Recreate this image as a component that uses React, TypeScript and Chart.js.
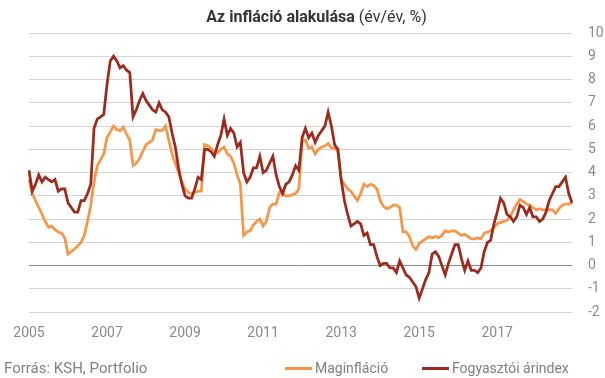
import React, { useEffect, useRef } from "react";
import Chart from "chart.js/auto";

// ---- data ----
const startYear = 2005;
const endYear = 2018;
const tickYears = [2005, 2007, 2009, 2011, 2013, 2015, 2017];
const yTicks = { min: -2, max: 10, step: 1 };
const seriesNames = ["Maginfláció", "Fogyasztói árindex"];
const seriesColors = ["#F79646", "#9C2B1E"];
const titleBold = "Az infláció alakulása";
const titleRest = " (év/év, %)";
const sourceText = "Forrás: KSH, Portfolio";

// Maginfláció (core inflation), monthly, Jan 2005 - Dec 2018
const coreInflation = [
  3.7, 3.1, 2.8, 2.5, 2.2, 1.9, 1.65, 1.7, 1.55, 1.45, 1.4, 1.2,
  0.5, 0.6, 0.72, 0.85, 1.0, 1.3, 1.9, 2.6, 3.6, 4.3, 4.55, 4.8,
  5.5, 5.75, 6.0, 5.85, 5.8, 5.95, 5.65, 5.4, 4.3, 4.4, 4.6, 4.9,
  5.2, 5.3, 5.4, 5.85, 5.8, 5.8, 6.0, 5.4, 4.8, 4.4, 4.0, 3.6,
  3.3, 3.15, 3.1, 3.15, 3.2, 3.2, 5.2, 5.15, 5.05, 4.9, 4.85, 5.0,
  5.1, 4.8, 4.7, 4.4, 3.9, 3.5, 1.3, 1.45, 1.5, 1.75, 1.9, 2.0,
  1.7, 1.9, 2.5, 2.65, 2.65, 3.15, 3.1, 3.0, 3.0, 3.05, 3.1, 3.3,
  5.35, 5.4, 5.05, 5.1, 4.8, 5.0, 5.1, 5.15, 5.25, 5.05, 5.05, 4.9,
  3.7, 3.5, 3.3, 3.2, 3.0, 2.8, 3.1, 3.5, 3.4, 3.5, 3.45, 3.3,
  2.8, 2.55, 2.45, 2.5, 2.6, 2.6, 2.5, 1.45, 1.45, 1.25, 0.85, 0.7,
  0.95, 1.05, 1.15, 1.25, 1.2, 1.25, 1.2, 1.3, 1.5, 1.45, 1.5, 1.5,
  1.4, 1.3, 1.35, 1.25, 1.15, 1.15, 1.2, 1.15, 1.4, 1.45, 1.5, 1.65,
  1.8, 1.85, 1.9, 1.95, 2.1, 2.4, 2.65, 2.85, 2.75, 2.65, 2.6, 2.5,
  2.4, 2.45, 2.4, 2.4, 2.4, 2.4, 2.25, 2.45, 2.6, 2.65, 2.65, 2.7,
];

// Fogyasztói árindex (CPI), monthly, Jan 2005 - Dec 2018
const cpi = [
  4.1, 3.2, 3.5, 3.9, 3.6, 3.8, 3.7, 3.6, 3.7, 3.2, 3.3, 3.3,
  2.7, 2.5, 2.3, 2.3, 2.8, 2.8, 3.1, 3.5, 5.9, 6.3, 6.4, 6.5,
  7.8, 8.8, 9.0, 8.8, 8.5, 8.6, 8.4, 8.3, 6.4, 6.7, 7.1, 7.4,
  7.1, 6.9, 6.7, 6.6, 7.0, 6.7, 6.6, 6.4, 5.7, 5.1, 4.2, 3.5,
  3.0, 2.9, 2.9, 3.3, 3.8, 3.7, 5.0, 5.0, 4.9, 4.7, 5.2, 5.6,
  6.3, 5.6, 5.9, 5.7, 5.1, 5.3, 4.0, 3.6, 3.8, 4.2, 4.2, 4.7,
  4.0, 4.1, 4.4, 4.7, 3.9, 3.4, 3.1, 3.5, 3.6, 3.9, 4.3, 4.1,
  5.5, 5.9, 5.5, 5.7, 5.3, 5.6, 5.8, 6.0, 6.6, 6.0, 5.2, 5.0,
  3.7, 2.8, 2.2, 1.7, 1.8, 1.9, 1.8, 1.3, 1.4, 0.9, 0.9, 0.4,
  0.0, 0.1, 0.1, -0.1, -0.1, -0.3, 0.2, -0.1, -0.4, -0.5, -0.7, -0.9,
  -1.4, -1.0, -0.6, -0.3, 0.5, 0.6, 0.4, 0.0, -0.4, 0.1, 0.5, 0.9,
  0.9, 0.3, -0.2, 0.2, -0.2, -0.2, -0.3, -0.1, 0.6, 1.0, 1.1, 1.8,
  2.3, 2.9, 2.7, 2.2, 2.1, 1.9, 2.1, 2.6, 2.5, 2.2, 2.5, 2.1,
  2.1, 1.9, 2.0, 2.3, 2.8, 3.1, 3.4, 3.4, 3.6, 3.8, 3.1, 2.7,
];

const months: string[] = [];
for (let y = startYear; y <= endYear; y++) {
  for (let m = 1; m <= 12; m++) months.push(`${y}-${String(m).padStart(2, "0")}`);
}

const FONT = "Roboto, 'Noto Sans', sans-serif";
const TICK_COLOR = "#8a8a8a";

export default function App() {
  const canvasRef = useRef<HTMLCanvasElement | null>(null);

  useEffect(() => {
    if (!canvasRef.current) return;
    const chart = new Chart(canvasRef.current, {
      type: "line",
      data: {
        labels: months,
        datasets: [
          {
            label: seriesNames[0],
            data: coreInflation,
            borderColor: seriesColors[0],
            backgroundColor: seriesColors[0],
            borderWidth: 2.75,
            pointRadius: 0,
            tension: 0,
            fill: false,
            order: 2,
          },
          {
            label: seriesNames[1],
            data: cpi,
            borderColor: seriesColors[1],
            backgroundColor: seriesColors[1],
            borderWidth: 2.75,
            pointRadius: 0,
            tension: 0,
            fill: false,
            order: 1,
          },
        ],
      },
      options: {
        animation: false,
        responsive: false,
        maintainAspectRatio: false,
        layout: { padding: { top: 33, left: 29, right: 0, bottom: 23 } },
        plugins: {
          legend: { display: false },
          title: { display: false },
          tooltip: { enabled: false },
        },
        scales: {
          x: {
            offset: false,
            grid: { display: false, drawTicks: false },
            border: { display: false },
            ticks: {
              autoSkip: false,
              maxRotation: 0,
              minRotation: 0,
              padding: 13,
              color: TICK_COLOR,
              font: { family: FONT, size: 14 },
              callback: (_v: any, i: number) => {
                const [y, m] = months[i].split("-");
                return m === "01" && tickYears.includes(Number(y)) ? y : "";
              },
            },
          },
          y: {
            position: "right",
            min: yTicks.min,
            max: yTicks.max,
            border: { display: false },
            grid: {
              drawTicks: false,
              lineWidth: 1,
              color: (ctx: any) => (ctx.tick && ctx.tick.value === 0 ? "#8c8c8c" : "#d4d4d4"),
            },
            ticks: {
              stepSize: yTicks.step,
              padding: 16,
              color: TICK_COLOR,
              font: { family: FONT, size: 14 },
            },
            afterFit: (s: any) => {
              s.width = 33;
            },
          },
        },
      },
    });
    return () => chart.destroy();
  }, []);

  const legendLefts = [285, 422];

  return (
    <div
      style={{
        position: "absolute",
        left: 0,
        top: 0,
        width: 605,
        height: 378,
        background: "#fff",
        fontFamily: FONT,
        overflow: "hidden",
      }}
    >
      <canvas ref={canvasRef} width={605} height={378} style={{ display: "block", width: 605, height: 378 }} />
      <div
        style={{
          position: "absolute",
          top: 7,
          left: 14,
          width: 605,
          textAlign: "center",
          fontSize: 16,
          lineHeight: "20px",
          color: "#333",
        }}
      >
        <span style={{ fontWeight: 700 }}>{titleBold}</span>
        <span>{titleRest}</span>
      </div>
      <div
        style={{
          position: "absolute",
          left: 4,
          top: 359,
          fontSize: 15,
          lineHeight: "18px",
          color: "#808080",
          whiteSpace: "nowrap",
        }}
      >
        {sourceText}
      </div>
      {seriesNames.map((name, i) => (
        <div
          key={name}
          style={{
            position: "absolute",
            left: legendLefts[i],
            top: 359,
            height: 18,
            display: "flex",
            alignItems: "center",
            whiteSpace: "nowrap",
          }}
        >
          <span style={{ display: "inline-block", width: 27, height: 3, background: seriesColors[i], marginRight: 3 }} />
          <span style={{ fontSize: 14, lineHeight: "18px", color: "#808080" }}>{name}</span>
        </div>
      ))}
    </div>
  );
}
